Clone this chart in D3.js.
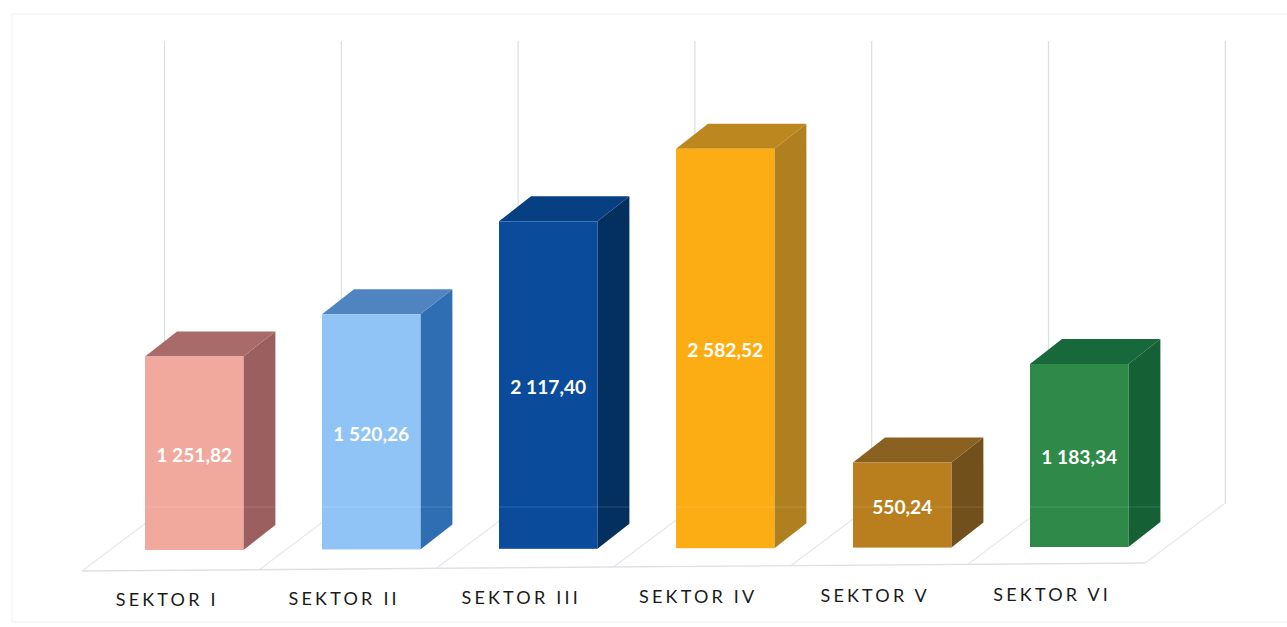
<!DOCTYPE html>
<html>
<head>
<meta charset="utf-8">
<script src="https://cdn.jsdelivr.net/npm/d3@7"></script>
<style>
  html, body { margin: 0; background: #fff; overflow: hidden; }
  svg { display: block; }
</style>
</head>
<body>
<script>
const categories = ["SEKTOR I", "SEKTOR II", "SEKTOR III", "SEKTOR IV", "SEKTOR V", "SEKTOR VI"];
const values = [1251.82, 1520.26, 2117.40, 2582.52, 550.24, 1183.34];

const frontColors = ["#f0a99c", "#90c4f6", "#0b4b9c", "#fdad14", "#b97e1d", "#2f8a49"];
const sideColors = ["#9a5f5e", "#2f6eb2", "#04305f", "#b07f20", "#72501b", "#166036"];
const topColors = ["#a96b69", "#4f84c0", "#073f83", "#bd871f", "#8a6120", "#17683b"];

const width = 1287, height = 627;
const depthX = 32, depthY = -25;   // how far the bars go back
const tilt = -0.6;                 // the scan is a bit crooked, px per category

const svg = d3.select("body").append("svg")
    .attr("width", width)
    .attr("height", height);

const x = d3.scaleBand()
    .domain(categories)
    .range([105.7, 1167.7])
    .paddingInner(0.444)
    .paddingOuter(0.222);

const y = d3.scaleLinear()
    .domain([0, 3000])
    .range([550, 86]);

const fmt = d3.formatLocale({decimal: ",", thousands: " ", grouping: [3], currency: ["", ""]}).format(",.2f");

// faint page frame
svg.append("rect")
    .attr("x", 12).attr("y", 14)
    .attr("width", 1290).attr("height", 608)
    .attr("fill", "none")
    .attr("stroke", "#f6f6f6")
    .attr("stroke-width", 1.5);

// back wall gridlines and floor
const slots = d3.range(categories.length + 1);
const wallX = i => 164.5 + i * 176.8;
const floorX = i => 82 + i * 177.2;
const floorY = i => 571 - i * 1.33;
const backY = i => 509 - i * 1;

svg.selectAll(".grid")
    .data(slots)
    .enter()
    .append("line")
    .attr("class", "grid")
    .attr("x1", wallX).attr("x2", wallX)
    .attr("y1", 41).attr("y2", backY)
    .attr("stroke", "#dcdde2")
    .attr("stroke-width", 1.2);

svg.selectAll(".divider")
    .data(slots)
    .enter()
    .append("line")
    .attr("class", "divider")
    .attr("x1", floorX).attr("y1", floorY)
    .attr("x2", wallX).attr("y2", backY)
    .attr("stroke", "#e6e7ec")
    .attr("stroke-width", 1.2);

svg.append("line")
    .attr("x1", floorX(0)).attr("y1", floorY(0))
    .attr("x2", floorX(6)).attr("y2", floorY(6))
    .attr("stroke", "#dfe0e6")
    .attr("stroke-width", 1.4);

// bars
const bars = svg.selectAll(".bar")
    .data(categories)
    .enter()
    .append("g")
    .attr("class", "bar")
    .attr("transform", (d, i) => "translate(0," + (i * tilt) + ")");

bars.append("path")
    .attr("fill", (d, i) => sideColors[i])
    .attr("d", (d, i) => {
        let r = x(d) + x.bandwidth();
        return "M" + r + "," + y(values[i]) + "L" + (r + depthX) + "," + (y(values[i]) + depthY)
            + "L" + (r + depthX) + "," + (y(0) + depthY) + "L" + r + "," + y(0) + "Z";
    });

bars.append("path")
    .attr("fill", (d, i) => topColors[i])
    .attr("d", (d, i) => {
        let l = x(d), r = l + x.bandwidth(), t = y(values[i]);
        return "M" + l + "," + t + "L" + (l + depthX) + "," + (t + depthY)
            + "L" + (r + depthX) + "," + (t + depthY) + "L" + r + "," + t + "Z";
    });

bars.append("rect")
    .attr("x", d => x(d))
    .attr("y", (d, i) => y(values[i]))
    .attr("width", x.bandwidth())
    .attr("height", (d, i) => y(0) - y(values[i]))
    .attr("fill", (d, i) => frontColors[i]);

// back floor edge shows through the bars a little
svg.append("line")
    .attr("x1", 146).attr("x2", 1161)
    .attr("y1", 507).attr("y2", 507)
    .attr("stroke", "#fff")
    .attr("stroke-opacity", 0.07)
    .attr("stroke-width", 2);

bars.append("text")
    .attr("x", d => x(d) + x.bandwidth() / 2)
    .attr("y", (d, i) => (y(values[i]) + y(0)) / 2 + 2)
    .attr("dy", "0.35em")
    .attr("text-anchor", "middle")
    .attr("fill", "#fff")
    .attr("font-family", "Lato")
    .attr("font-weight", "bold")
    .attr("font-size", 19.2)
    .text((d, i) => fmt(values[i]));

// category axis
const axis = svg.append("g")
    .attr("transform", "translate(-27,593)")
    .call(d3.axisBottom(x).tickSize(0).tickPadding(0));

axis.select(".domain").remove();

axis.selectAll(".tick")
    .attr("transform", d => "translate(" + (x(d) + x.bandwidth() / 2) + "," + (categories.indexOf(d) * -1) + ")");

axis.selectAll("text")
    .attr("font-family", "Lato")
    .attr("font-size", 18)
    .attr("letter-spacing", 3.2)
    .attr("fill", "#1a1a1a");
</script>
</body>
</html>
